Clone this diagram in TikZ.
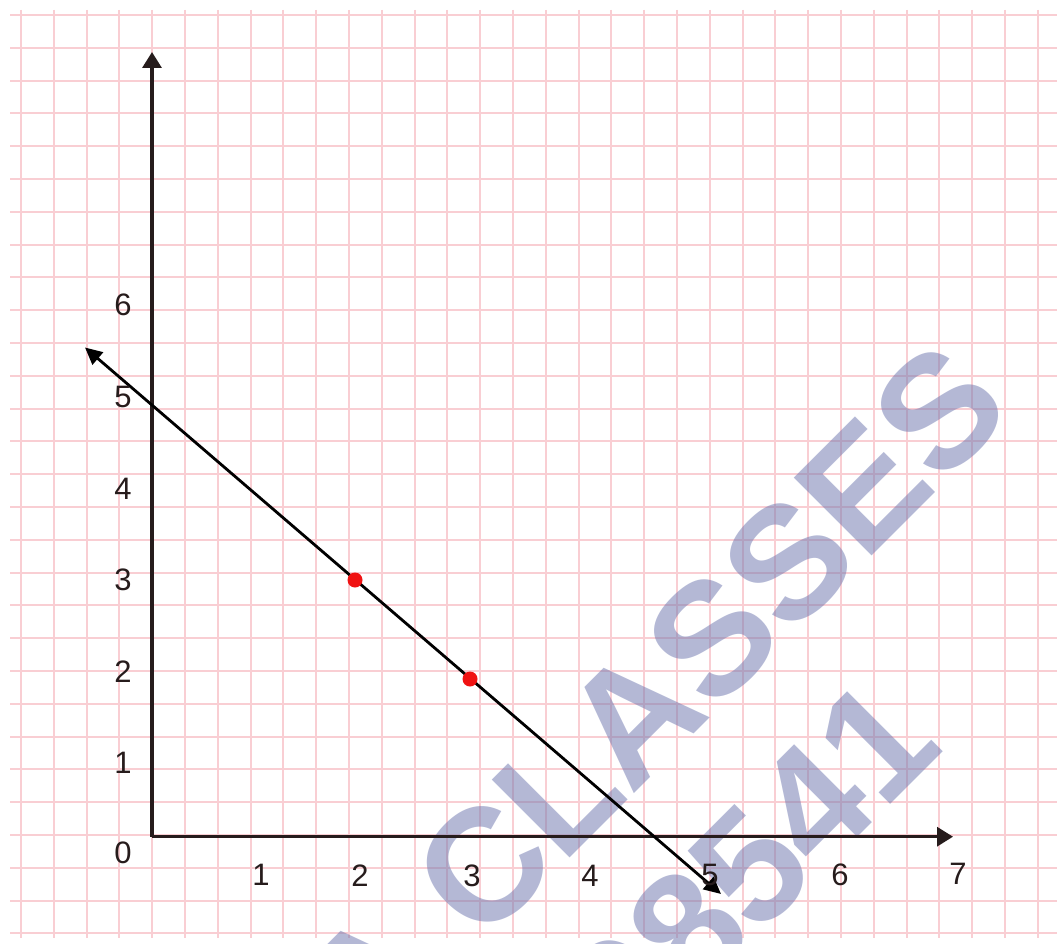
\documentclass[tikz,border=0pt]{standalone}
\usepackage{fontspec}
\setmainfont{Liberation Sans}
\usetikzlibrary{arrows.meta}
\definecolor{gridpink}{RGB}{249,206,211}
\definecolor{axiscol}{RGB}{38,28,28}
\definecolor{dotred}{RGB}{240,18,18}
\definecolor{wmark}{RGB}{112,120,176}
\begin{document}
\begin{tikzpicture}[x=1pt,y=-1pt,
  gridline/.style={gridpink, line width=2pt},
  axisline/.style={axiscol, line width=3.2pt, -{Triangle[length=16pt,width=19pt]}},
  graphline/.style={black, line width=2.8pt, {Triangle[length=17pt,width=16pt]}-{Triangle[length=17pt,width=16pt]}},
  dot/.style={circle, fill=dotred, minimum size=15pt, inner sep=0pt},
  ticklabel/.style={font=\fontsize{31}{31}\selectfont, text=axiscol, inner sep=0pt},
  wm/.style={font=\fontsize{160}{160}\selectfont\bfseries, text=wmark, text opacity=0.52, rotate=45, anchor=base west, inner sep=0pt}
]
\useasboundingbox (0,0) rectangle (1057,944);
\fill[white] (0,0) rectangle (1057,944);
% graph paper
\foreach \k in {0,...,31} {
  \pgfmathsetmacro{\gx}{round(21+32.8*\k)}
  \draw[gridline] (\gx,10) -- (\gx,938);
}
\foreach \k in {0,...,28} {
  \pgfmathsetmacro{\gy}{round(15+32.8*\k)}
  \draw[gridline] (10,\gy) -- (1057,\gy);
}
% watermark
\begin{scope}
\clip (0,0) rectangle (1057,944);
\node[wm] (wm1) at (368,1060) {A CLASSES};
\node[wm] (wm2) at (632,1063) {98541};
\end{scope}
% axes
\coordinate (O) at (152,836.7);
\coordinate (Ytip) at (152,52);
\coordinate (Xtip) at (953,836.7);
\draw[axisline] (O) -- (Ytip);
\draw[axisline] (O) -- (Xtip);
% line
\coordinate (L1) at (85,347.5);
\coordinate (L2) at (721,894);
\draw[graphline] (L2) -- (L1);
\node[dot] (P1) at (355,580) {};
\node[dot] (P2) at (470,679) {};
% y labels
\node[ticklabel] (y0) at (123,853) {0};
\node[ticklabel] (y1) at (123,763) {1};
\node[ticklabel] (y2) at (123,672) {2};
\node[ticklabel] (y3) at (123,580) {3};
\node[ticklabel] (y4) at (123,489) {4};
\node[ticklabel] (y5) at (123,397) {5};
\node[ticklabel] (y6) at (123,305) {6};
% x labels
\node[ticklabel] (x1) at (261,875) {1};
\node[ticklabel] (x2) at (360,876) {2};
\node[ticklabel] (x3) at (472,876) {3};
\node[ticklabel] (x4) at (590,876) {4};
\node[ticklabel] (x5) at (710,875) {5};
\node[ticklabel] (x6) at (840,875) {6};
\node[ticklabel] (x7) at (958,874) {7};
\end{tikzpicture}
\end{document}
